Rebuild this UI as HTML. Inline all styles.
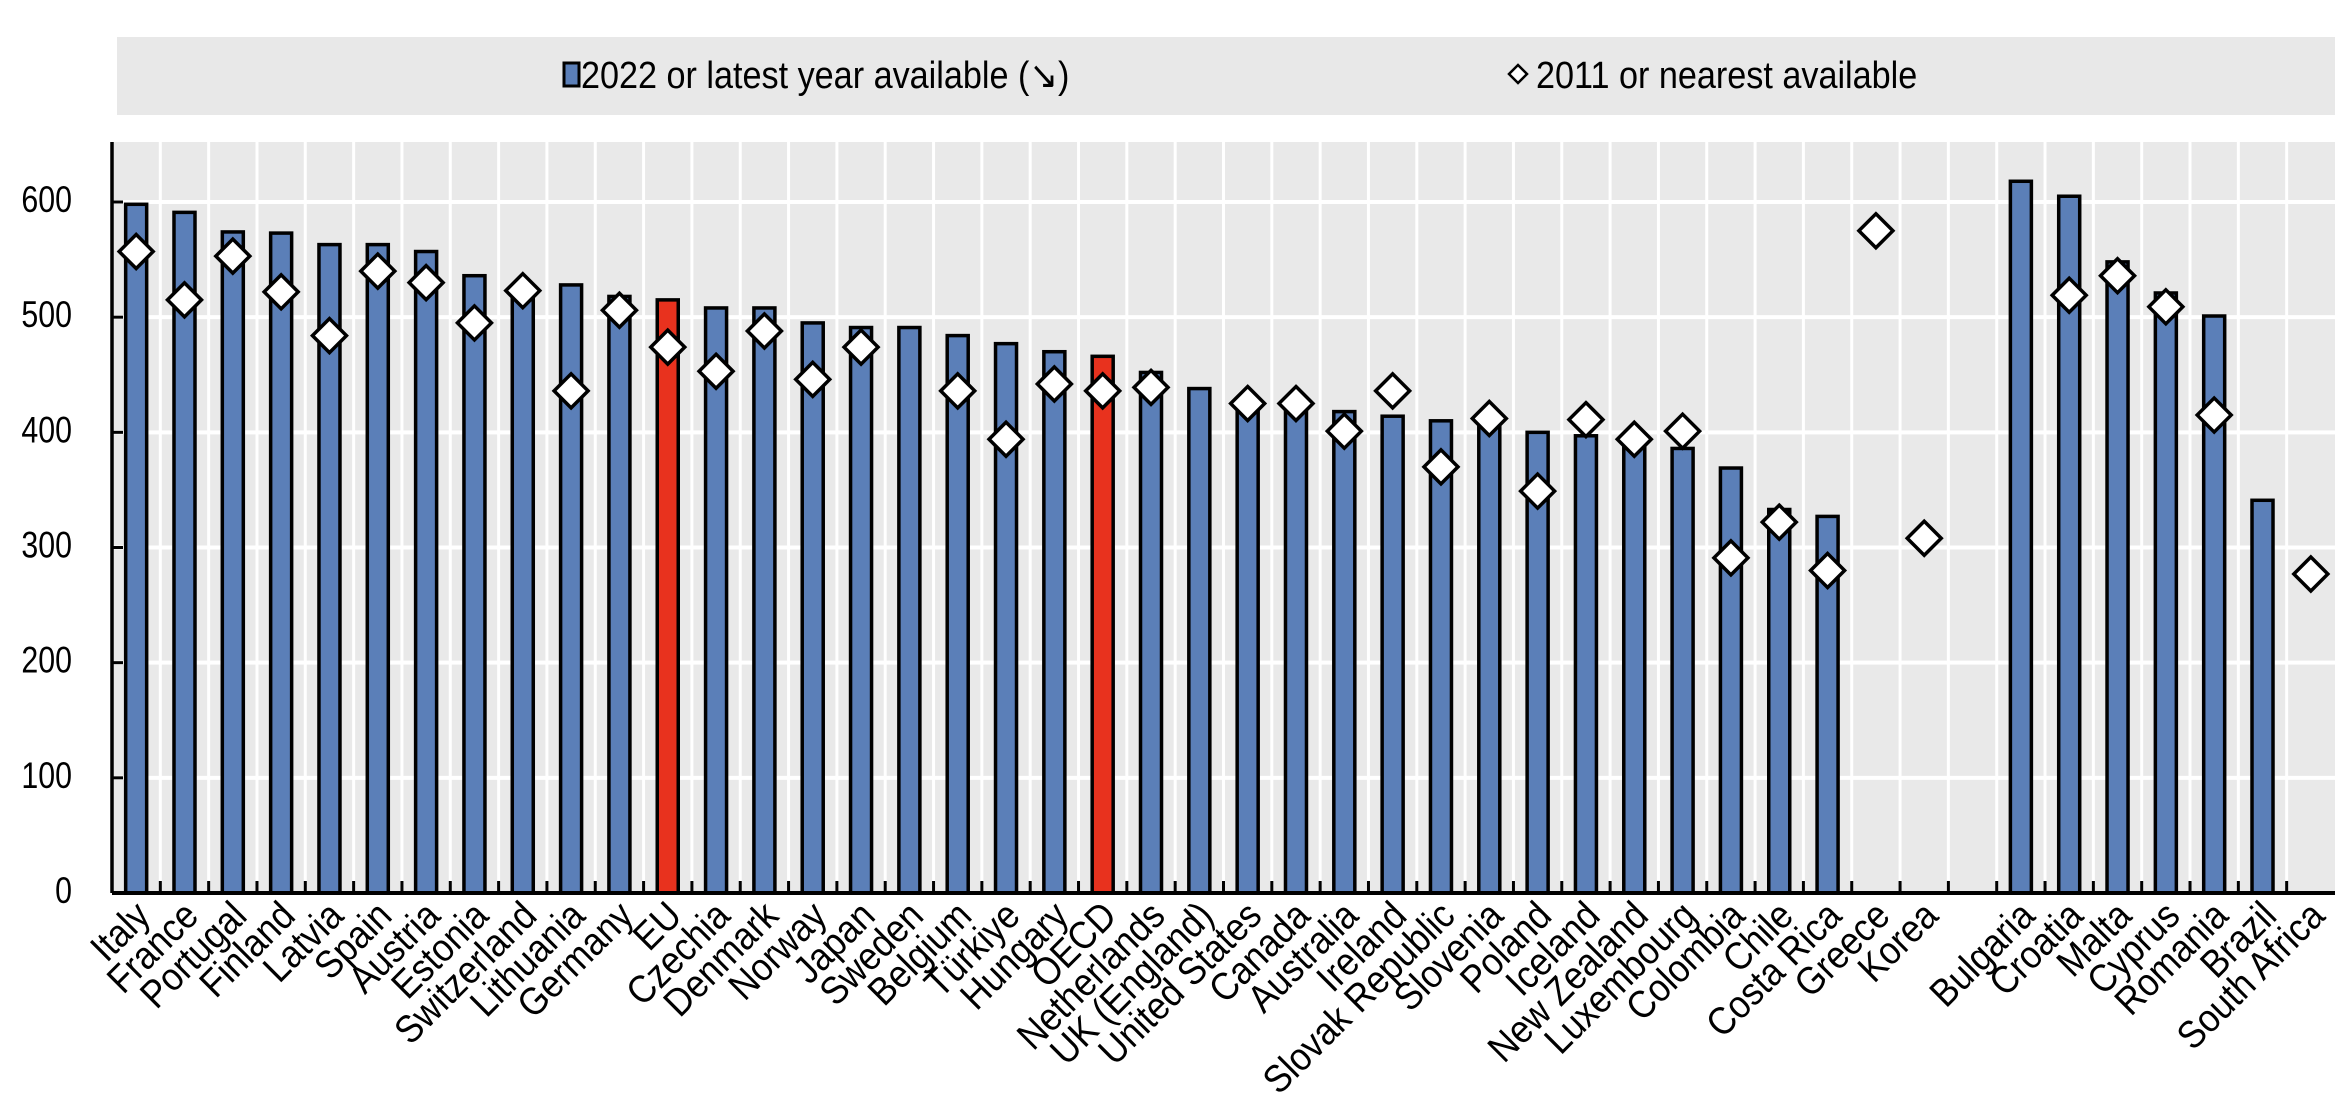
<!DOCTYPE html>
<html><head><meta charset="utf-8">
<style>
html,body{margin:0;padding:0;background:#fff;}
svg{display:block;font-family:"Liberation Sans",Arial,sans-serif;}
</style></head>
<body>
<svg id="chart" width="2350" height="1106" viewBox="0 0 2350 1106">
  <rect x="117" y="37" width="2218" height="78" fill="#e8e8e8"/>
  <g>
    <rect x="564" y="63" width="15" height="23" fill="#5b7fb8" stroke="#000" stroke-width="3"/>
    <text transform="translate(581,88) scale(0.9,1)" font-size="38" fill="#000">2022 or latest year available (↘)</text>
  </g>
  <g>
    <path d="M1518,65 L1527,74 L1518,83 L1509,74 Z" fill="#fff" stroke="#000" stroke-width="2.5"/>
    <text transform="translate(1536,88) scale(0.9,1)" font-size="38" fill="#000">2011 or nearest available</text>
  </g>
  <g id="plot"></g>
</svg>
<script>
const categories = ["Italy","France","Portugal","Finland","Latvia","Spain","Austria","Estonia","Switzerland","Lithuania","Germany","EU","Czechia","Denmark","Norway","Japan","Sweden","Belgium","Türkiye","Hungary","OECD","Netherlands","UK (England)","United States","Canada","Australia","Ireland","Slovak Republic","Slovenia","Poland","Iceland","New Zealand","Luxembourg","Colombia","Chile","Costa Rica","Greece","Korea","","Bulgaria","Croatia","Malta","Cyprus","Romania","Brazil","South Africa"];
const values2022 = [598,591,574,573,563,563,557,536,525,528,518,515,508,508,495,491,491,484,477,470,466,452,438,425,425,418,414,410,411,400,397,395,386,369,333,327,null,null,null,618,605,548,521,501,341,null];
const values2011 = [557,515,553,522,484,540,530,495,523,436,506,474,453,488,446,474,null,436,394,442,436,439,null,425,425,401,436,370,412,349,411,394,401,291,322,280,575,308,null,null,519,536,509,415,null,277];
const highlighted = ["EU","OECD"];
const yTicks = [0,100,200,300,400,500,600];

const NS="http://www.w3.org/2000/svg";
const plot=document.getElementById('plot');
const X0=112, X1=2335, Y0=893, YTOP=142;
const slotW=(X1-X0)/categories.length;
const yScale=v=>Y0-v*(Y0-202)/600;
const xCenter=i=>X0+slotW*(i+0.5);
function mk(tag,attrs){const e=document.createElementNS(NS,tag);for(const k in attrs)e.setAttribute(k,attrs[k]);return e;}

const bg=mk('rect',{x:X0,y:YTOP,width:X1-X0,height:Y0-YTOP,fill:'#e9e9e9'});


plot.appendChild(bg);

for(let i=1;i<categories.length;i++){
  const x=X0+slotW*i;
  const g=mk('line',{x1:x,x2:x,y1:YTOP,y2:Y0,stroke:'#fff','stroke-width':3});
  
  
  plot.appendChild(g);
}
yTicks.forEach(t=>{
  const y=yScale(t);
  if(t>0){
    const g=mk('line',{x1:X0,x2:X1,y1:y,y2:y,stroke:'#fff','stroke-width':4});
    
    
    plot.appendChild(g);
  }
  const tk=mk('line',{x1:X0,x2:X0+11,y1:y,y2:y,stroke:'#000','stroke-width':3});
  
  
  plot.appendChild(tk);
  const lb=mk('text',{transform:`translate(72,${y+10}) scale(0.82,1)`,'font-size':37,'text-anchor':'end',fill:'#000'});
  lb.textContent=t;
  
  
  plot.appendChild(lb);
});

categories.forEach((c,i)=>{
  const cx=xCenter(i);
  const v=values2022[i];
  if(v!=null){
    const bw=21;
    const r=mk('rect',{x:cx-bw/2,y:yScale(v),width:bw,height:Y0-yScale(v),fill:highlighted.includes(c)?'#e8321e':'#5b7fb8',stroke:'#000','stroke-width':3.5});
    
    
    plot.appendChild(r);
  }
});
for(let i=1;i<categories.length;i++){
  const x=X0+slotW*i;
  const tk=mk('line',{x1:x,x2:x,y1:Y0-12,y2:Y0,stroke:'#000','stroke-width':3});
  
  
  plot.appendChild(tk);
}
categories.forEach((c,i)=>{
  const cx=xCenter(i);
  const v=values2011[i];
  if(v!=null){
    const y=yScale(v), h=17;
    const d=mk('path',{d:`M${cx},${y-h} L${cx+h},${y} L${cx},${y+h} L${cx-h},${y} Z`,fill:'#fff',stroke:'#000','stroke-width':3.5});
    
    
    plot.appendChild(d);
  }
  if(c){
    const lx=cx+16, ly=918;
    const t=mk('text',{transform:`translate(${lx},${ly}) rotate(-45) scale(0.9,1)`,'font-size':39,'text-anchor':'end',fill:'#000'});
    t.textContent=c;
    
    
    plot.appendChild(t);
  }
});
const ax=mk('line',{x1:X0,x2:X0,y1:YTOP,y2:Y0,stroke:'#000','stroke-width':3.5});


plot.appendChild(ax);
const bx=mk('line',{x1:X0,x2:X1,y1:Y0,y2:Y0,stroke:'#000','stroke-width':4});


plot.appendChild(bx);
</script>
</body></html>
